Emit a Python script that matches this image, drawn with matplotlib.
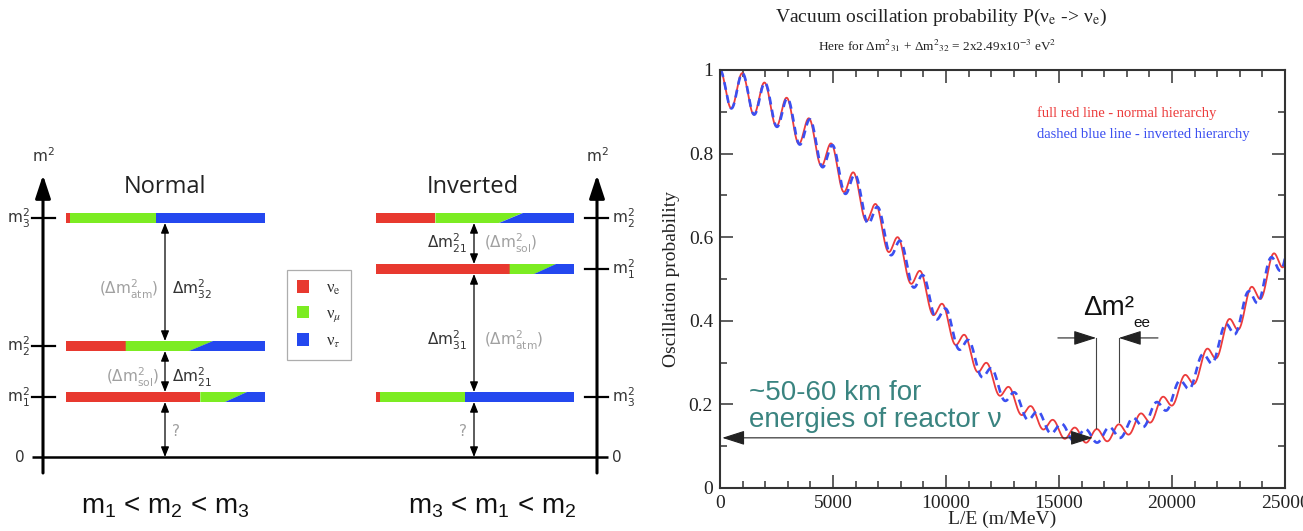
import numpy as np
import matplotlib.pyplot as plt
from matplotlib.patches import Patch
from matplotlib.ticker import MultipleLocator, FuncFormatter

plt.rcParams['mathtext.fontset'] = 'custom'
plt.rcParams['mathtext.rm'] = 'Liberation Sans'
plt.rcParams['mathtext.it'] = 'Liberation Sans:italic'

# --- mass ordering scheme (heights above m^2 = 0) ---
states = ['1', '2', '3']
levels_normal = [60, 111, 239]      # m1, m2, m3
levels_inverted = [188, 239, 60]
nue_frac = [0.675, 0.30, 0.02]      # nu_e share of each mass state
mutau_bottom = [0.80, 0.62, 0.45]   # nu_mu / nu_tau split, lower edge
mutau_top = [0.91, 0.74, 0.45]      # nu_mu / nu_tau split, upper edge
flavour_labels = [r'ν$_{\mathrm{e}}$', r'ν$_{\mu}$', r'ν$_{\tau}$']
flavour_colours = ['#e8392f', '#7cec22', '#2448ef']

# --- reactor survival probability ---
dm2_ee = 2.49e-3
dm2_21 = 7.55e-5
sin2_2th13 = 0.09
sin2_th12 = 0.32
le_max = 25000

RED = '#ec3b3b'
BLUE = '#3b4ff0'
TEAL = '#3a8480'

fig = plt.figure(figsize=(13.03, 5.31), dpi=100)

# ===================== left: level scheme =====================
axl = fig.add_axes([0, 0, 650 / 1303, 1])
axl.set_xlim(0, 650)
axl.set_ylim(-74, 457)
axl.axis('off')

bar_h = 5
bars = {'normal': (66, 265, levels_normal), 'inverted': (376, 574, levels_inverted)}


def draw_level(x0, x1, y, k):
    w = x1 - x0
    xr = x0 + nue_frac[k] * w
    xb = x0 + mutau_bottom[k] * w
    xt = x0 + mutau_top[k] * w
    lo, hi = y - bar_h, y + bar_h
    axl.fill([x0, xr, xr, x0], [lo, lo, hi, hi], color=flavour_colours[0], lw=0)
    axl.fill([xr, xb, xt, xr], [lo, lo, hi, hi], color=flavour_colours[1], lw=0)
    axl.fill([xb, x1, x1, xt], [lo, lo, hi, hi], color=flavour_colours[2], lw=0)


for name, (x0, x1, lv) in bars.items():
    for k, y in enumerate(lv):
        draw_level(x0, x1, y, k)

axis_arrow = dict(arrowstyle='-|>,head_length=1.0,head_width=0.33', mutation_scale=14,
                  color='k', lw=2.2, shrinkA=0, shrinkB=0)
for xa in (43, 597):
    axl.annotate('', xy=(xa, 282), xytext=(xa, -16), arrowprops=axis_arrow)
    axl.text(xa, 292, r'$\mathrm{m}^2$', ha='center', va='bottom', fontsize=11,
             color='#333', math_fontfamily='dejavusans')
axl.plot([32, 608], [0, 0], color='k', lw=1.8, solid_capstyle='butt')
axl.text(20, 0, '0', ha='center', va='center', fontsize=11, color='#333', family='DejaVu Sans')
axl.text(617, 0, '0', ha='center', va='center', fontsize=11, color='#333', family='DejaVu Sans')

for k, s in enumerate(states):
    yn, yi = levels_normal[k], levels_inverted[k]
    axl.plot([32, 55], [yn, yn], color='k', lw=1.6)
    axl.plot([585, 608], [yi, yi], color='k', lw=1.6)
    axl.text(30, yn, r'$\mathrm{m}^2_%s$' % s, ha='right', va='center', fontsize=11,
             color='#333', math_fontfamily='dejavusans')
    axl.text(612, yi, r'$\mathrm{m}^2_%s$' % s, ha='left', va='center', fontsize=11,
             color='#333', math_fontfamily='dejavusans')

axl.text(165, 270, 'Normal', ha='center', va='center', fontsize=17, color='#222', family='Open Sans')
axl.text(473, 270, 'Inverted', ha='center', va='center', fontsize=17, color='#222', family='Open Sans')

span = dict(arrowstyle='<|-|>,head_length=0.55,head_width=0.22', mutation_scale=11,
            color='k', lw=0.9, shrinkA=0, shrinkB=0)


def gap_arrow(x, y0, y1):
    axl.annotate('', xy=(x, y1), xytext=(x, y0), arrowprops=span)


def dm_label(x, y, txt, ha, grey=False):
    axl.text(x, y, txt, ha=ha, va='center', fontsize=11, color='#a0a0a0' if grey else '#333',
             math_fontfamily='dejavusans')


ln, li = levels_normal, levels_inverted
gap_arrow(165, ln[2] - bar_h, ln[1] + bar_h)
gap_arrow(165, ln[1] - bar_h, ln[0] + bar_h)
gap_arrow(165, ln[0] - bar_h, 0)
dm_label(172, 168, r'$\Delta\mathrm{m}^2_{32}$', 'left')
dm_label(159, 168, r'$(\Delta\mathrm{m}^2_{\mathrm{atm}})$', 'right', True)
dm_label(172, 80, r'$\Delta\mathrm{m}^2_{21}$', 'left')
dm_label(159, 80, r'$(\Delta\mathrm{m}^2_{\mathrm{sol}})$', 'right', True)
dm_label(172, 25, '?', 'left', True)

gap_arrow(474, li[1] - bar_h, li[0] + bar_h)
gap_arrow(474, li[0] - bar_h, li[2] + bar_h)
gap_arrow(474, li[2] - bar_h, 0)
dm_label(467, 214, r'$\Delta\mathrm{m}^2_{21}$', 'right')
dm_label(484, 214, r'$(\Delta\mathrm{m}^2_{\mathrm{sol}})$', 'left', True)
dm_label(467, 117, r'$\Delta\mathrm{m}^2_{31}$', 'right')
dm_label(484, 117, r'$(\Delta\mathrm{m}^2_{\mathrm{atm}})$', 'left', True)
dm_label(467, 25, '?', 'right', True)

handles = [Patch(facecolor=c, edgecolor='none') for c in flavour_colours]
leg = axl.legend(handles, flavour_labels, loc='center', bbox_to_anchor=(319 / 650, 1 - 315 / 531),
                 frameon=True, fancybox=False, edgecolor='#999', handlelength=0.75,
                 handleheight=0.75, handletextpad=1.0, labelspacing=0.55, borderpad=0.6,
                 prop={'family': 'Liberation Serif', 'size': 12})
for t in leg.get_texts():
    t.set_math_fontfamily('stix')
    t.set_color('#333')
leg.get_frame().set_linewidth(0.9)

axl.text(165, -50, 'm$_1$ < m$_2$ < m$_3$', ha='center', va='center', fontsize=20,
         family='Liberation Sans', color='#111')
axl.text(492, -50, 'm$_3$ < m$_1$ < m$_2$', ha='center', va='center', fontsize=20,
         family='Liberation Sans', color='#111')

# ===================== right: survival probability =====================
ax = fig.add_axes([720 / 1303, 43 / 531, 565 / 1303, 418 / 531])

c12sq = 1 - sin2_th12
sin2_2th12 = 4 * sin2_th12 * c12sq
s13sq = (1 - np.sqrt(1 - sin2_2th13)) / 2
c13_4 = (1 - s13sq) ** 2


def survival(le, dm31, dm32):
    d21 = 1.267 * dm2_21 * le
    d31 = 1.267 * dm31 * le
    d32 = 1.267 * dm32 * le
    return (1 - sin2_2th13 * (c12sq * np.sin(d31) ** 2 + sin2_th12 * np.sin(d32) ** 2)
            - c13_4 * sin2_2th12 * np.sin(d21) ** 2)


le = np.linspace(0, le_max, 5000)
p_normal = survival(le, dm2_ee + dm2_21 / 2, dm2_ee - dm2_21 / 2)
p_inverted = survival(le, dm2_ee - dm2_21 / 2, dm2_ee + dm2_21 / 2)

ax.plot(le, p_normal, color=RED, lw=1.3)
ax.plot(le, p_inverted, color=BLUE, lw=1.9, ls=(0, (3, 2)))

ax.set_xlim(0, le_max)
ax.set_ylim(0, 1)
ax.xaxis.set_major_locator(MultipleLocator(5000))
ax.xaxis.set_minor_locator(MultipleLocator(1000))
ax.yaxis.set_major_locator(MultipleLocator(0.2))
ax.yaxis.set_minor_locator(MultipleLocator(0.1))
fmt = FuncFormatter(lambda v, _: f'{v:g}')
ax.xaxis.set_major_formatter(fmt)
ax.yaxis.set_major_formatter(fmt)
ax.tick_params(which='both', direction='in', top=True, right=True, width=1.1, color='#333',
               labelsize=14, labelcolor='#222')
ax.tick_params(which='major', length=9.5, pad=5)
ax.tick_params(which='minor', length=5)
for lab in ax.get_xticklabels() + ax.get_yticklabels():
    lab.set_family('Liberation Serif')
for sp in ax.spines.values():
    sp.set_linewidth(1.5)
    sp.set_color('#333')

ax.set_xlabel('L/E (m/MeV)', fontsize=14, family='Liberation Serif', color='#222')
ax.set_ylabel('Oscillation probability', fontsize=14, family='Liberation Serif', color='#222')
ax.xaxis.set_label_coords(0.5, -0.055)
ax.yaxis.set_label_coords(-0.07, 0.5)

ax.text(0.561, 0.897, 'full red line - normal hierarchy', transform=ax.transAxes, color=RED,
        fontsize=10.5, family='Liberation Serif', va='center')
ax.text(0.561, 0.845, 'dashed blue line - inverted hierarchy', transform=ax.transAxes, color=BLUE,
        fontsize=10.5, family='Liberation Serif', va='center')

# baseline range and the atmospheric-splitting marker
head = dict(color='#222', lw=0.8, shrinkA=0, shrinkB=0, mutation_scale=14)
ax.annotate('', xy=(100, 0.12), xytext=(16500, 0.12),
            arrowprops=dict(arrowstyle='<|-|>,head_length=1.0,head_width=0.32', **head))
ax.text(1283, 0.195, '~50-60 km for\nenergies of reactor ν', color=TEAL, fontsize=20,
        family='Liberation Sans', ha='left', va='center', linespacing=1.05)

ee_left, ee_right, ee_y = 16640, 17650, 0.359
ax.plot([ee_left, ee_left], [ee_y, 0.143], color='#444', lw=0.8)
ax.plot([ee_right, ee_right], [ee_y, 0.158], color='#444', lw=0.8)
ax.annotate('', xy=(ee_left, ee_y), xytext=(14950, ee_y),
            arrowprops=dict(arrowstyle='-|>,head_length=1.0,head_width=0.32', **head))
ax.annotate('', xy=(ee_right, ee_y), xytext=(19380, ee_y),
            arrowprops=dict(arrowstyle='-|>,head_length=1.0,head_width=0.32', **head))
ax.text(16062, 0.414, 'Δm²', fontsize=20, family='Liberation Sans', color='#111',
        ha='left', va='baseline')
ax.text(18279, 0.395, 'ee', fontsize=11, family='Liberation Sans', color='#111',
        ha='left', va='center')

fig.text(941 / 1303, 1 - 17 / 531, r'Vacuum oscillation probability P(ν$_{\mathrm{e}}$ -> ν$_{\mathrm{e}}$)',
         ha='center', va='center', fontsize=14, family='Liberation Serif', color='#222',
         math_fontfamily='stix')
fig.text(937 / 1303, 1 - 46 / 531,
         r'Here for Δm$^2$$_{31}$ + Δm$^2$$_{32}$ = 2x2.49x10$^{-3}$ eV$^2$',
         ha='center', va='center', fontsize=9.5, family='Liberation Serif', color='#222',
         math_fontfamily='stix')

fig.savefig('out.png', dpi=100)
